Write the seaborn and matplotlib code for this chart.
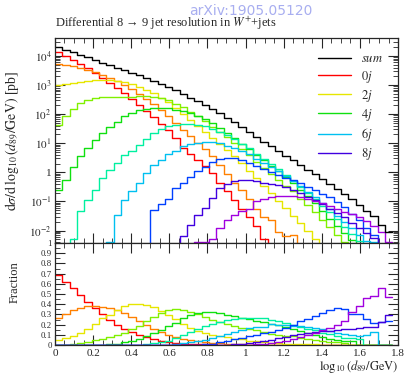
import numpy as np
import pandas as pd
import matplotlib
matplotlib.use("Agg")
import matplotlib.pyplot as plt
import seaborn as sns
from matplotlib.lines import Line2D
from matplotlib.ticker import FuncFormatter, MultipleLocator, LogLocator, NullFormatter

NA = np.nan

# ─── binning in log10(d89/GeV) ───────────────────────────────────────────────
bin_lo, bin_hi, n_bins = 0.0, 1.77, 46

mult_labels = ["0j", "1j", "2j", "3j", "4j", "5j", "6j", "7j", "8j", "9j"]
mult_colors = ["#ff0000", "#ff8000", "#e6e600", "#80f000", "#10e010",
               "#00f0a0", "#00c0f0", "#0040ff", "#4000e0", "#a000e0"]
legend_mults = ["0j", "2j", "4j", "6j", "8j"]

# log10 of dsigma/dlog10(d89) [pb] per bin
log_xs_0j = [4.15, 4.01, 3.87, 3.73, 3.58, 3.42, 3.25, 3.08, 2.90, 2.71,
             2.51, 2.33, 2.12, 1.89, 1.67, 1.46, 1.18, 0.85, 0.62, 0.42,
             0.22, -0.02, -0.35, -0.65, -0.95, -1.25, -1.55, -1.85, -2.30] + [NA] * 17
log_xs_1j = [3.73, 3.70, 3.66, 3.60, 3.53, 3.44, 3.34, 3.25, 3.14, 3.00,
             2.85, 2.70, 2.53, 2.34, 2.15, 1.94, 1.70, 1.46, 1.25, 1.01,
             0.79, 0.55, 0.25, -0.05, -0.35, -0.60, -0.90, -1.25, -1.55, -1.65,
             -2.05, -2.20, -2.15] + [NA] * 13
log_xs_2j = [3.00, 3.04, 3.07, 3.12, 3.15, 3.18, 3.19, 3.16, 3.13, 3.09,
             3.02, 2.94, 2.84, 2.71, 2.57, 2.40, 2.22, 2.00, 1.79, 1.59,
             1.37, 1.17, 0.96, 0.76, 0.55, 0.31, 0.05, -0.21, -0.47, -0.72,
             -0.98, -1.24, -1.50, -1.74, -2.00, -2.28] + [NA] * 10
log_xs_3j = [1.61, 1.92, 2.17, 2.38, 2.49, 2.56, 2.58, 2.59, 2.59, 2.58,
             2.60, 2.61, 2.61, 2.58, 2.54, 2.47, 2.36, 2.23, 2.08, 1.92,
             1.75, 1.57, 1.39, 1.20, 1.02, 0.80, 0.59, 0.37, 0.15, -0.06,
             -0.26, -0.47, -0.65, -0.90, -1.12, -1.36, -1.63, -1.88, -2.14, -2.40] + [NA] * 6
log_xs_4j = [-0.62, -0.25, 0.20, 0.55, 0.83, 1.12, 1.34, 1.57, 1.73, 1.93,
             2.03, 2.14, 2.19, 2.22, 2.20, 2.20, 2.15, 2.12, 2.03, 1.93,
             1.82, 1.68, 1.52, 1.35, 1.19, 0.99, 0.80, 0.59, 0.41, 0.22,
             0.03, -0.17, -0.38, -0.59, -0.82, -1.06, -1.33, -1.59, -1.83, -2.09,
             -2.32] + [NA] * 5
log_xs_5j = [NA, NA, -2.30, -1.34, -0.94, -0.60, -0.20, 0.09, 0.32, 0.60,
             0.75, 0.95, 1.15, 1.35, 1.48, 1.58, 1.63, 1.67, 1.67, 1.63,
             1.58, 1.49, 1.39, 1.27, 1.15, 0.99, 0.82, 0.63, 0.47, 0.29,
             0.11, -0.09, -0.29, -0.50, -0.70, -0.90, -1.15, -1.38, -1.62, -1.87,
             -2.11, -2.36] + [NA] * 4
log_xs_6j = [NA] * 7 + [-2.40, -1.46, -0.94,
             -0.65, -0.37, -0.02, 0.26, 0.43, 0.63, 0.75, 0.90, 0.98, 1.02,
             1.04, 1.03, 1.00, 0.92, 0.85, 0.75, 0.62, 0.46, 0.31, 0.20,
             0.04, -0.12, -0.30, -0.47, -0.66, -0.84, -1.04, -1.25, -1.49, -1.70,
             -1.92, -2.15, -2.35, -2.40] + [NA] * 2
log_xs_7j = [NA] * 13 + [-1.30, -1.10, -0.90, -0.55, -0.35, -0.15, 0.05,
             0.20, 0.35, 0.47, 0.48, 0.48, 0.42, 0.33, 0.22, 0.11, 0.01,
             -0.08, -0.19, -0.28, -0.38, -0.49, -0.60, -0.73, -0.86, -1.01, -1.19,
             -1.44, -1.64, -1.92, -2.17, -2.45, -2.69]
log_xs_8j = [NA] * 17 + [-2.20, -1.80, -1.46,
             -1.23, -0.88, -0.55, -0.40, -0.30, -0.27, -0.28, -0.31, -0.36, -0.40,
             -0.45, -0.52, -0.60, -0.72, -0.84, -0.96, -1.10, -1.25, -1.39, -1.55,
             -1.73, -1.90, -2.08, -2.27, -2.45, -2.60]
log_xs_9j = [NA] * 19 + [-2.40,
             -2.40, -2.30, -1.90, -1.64, -1.48, -1.32, -1.25, -1.00, -0.90, -0.85,
             -0.82, -0.80, -0.82, -0.86, -0.90, -0.98, -1.07, -1.17, -1.27, -1.36,
             -1.42, -1.54, -1.67, -1.83, -2.05, -2.39]

all_logs = [log_xs_0j, log_xs_1j, log_xs_2j, log_xs_3j, log_xs_4j,
            log_xs_5j, log_xs_6j, log_xs_7j, log_xs_8j, log_xs_9j]

# ─── long-form table: cross sections, sum and fractions ─────────────────────
edges = np.linspace(bin_lo, bin_hi, n_bins + 1)
centres = 0.5 * (edges[:-1] + edges[1:])
bin_list = edges.tolist()

frames = []
for lab, vals in zip(mult_labels, all_logs):
    xs = np.nan_to_num(10.0 ** np.asarray(vals, dtype=float), nan=0.0)
    frames.append(pd.DataFrame({"bin": np.arange(n_bins), "x": centres, "xs": xs, "mult": lab}))
df = pd.concat(frames, ignore_index=True)
df["total"] = df.groupby("bin")["xs"].transform("sum")
df["frac"] = df["xs"] / df["total"]
df["xs_plot"] = df["xs"].where(df["xs"] > 0, 1e-9)   # empty bins drop below the axis

sum_df = df.groupby("bin", as_index=False).agg(x=("x", "first"), xs=("total", "first"))

# ─── style ──────────────────────────────────────────────────────────────────
sns.set_style("ticks")
plt.rcParams["font.family"] = ["Liberation Serif", "DejaVu Serif"]
plt.rcParams["mathtext.fontset"] = "stix"

fig = plt.figure(figsize=(4.07, 3.78), dpi=100)
ax_top = fig.add_axes([0.135, 0.357, 0.843, 0.542])
ax_bot = fig.add_axes([0.135, 0.087, 0.843, 0.270], sharex=ax_top)

ax_top.set_yscale("log")
for lab, col in zip(mult_labels, mult_colors):
    sub = df[df["mult"] == lab]
    sns.histplot(data=sub, x="x", weights="xs_plot", bins=bin_list, element="step",
                 fill=False, color=col, linewidth=1.0, ax=ax_top)
    sns.histplot(data=sub, x="x", weights="frac", bins=bin_list, element="step",
                 fill=False, color=col, linewidth=1.0, ax=ax_bot)
sns.histplot(data=sum_df, x="x", weights="xs", bins=bin_list, element="step",
             fill=False, color="black", linewidth=1.0, ax=ax_top)

# ─── axes ───────────────────────────────────────────────────────────────────
ax_top.set_xlim(0, 1.8)
ax_top.set_ylim(10 ** -2.43, 10 ** 4.61)
ax_bot.set_ylim(0, 1)

def log_fmt(v, pos):
    e = int(round(np.log10(v)))
    return "1" if e == 0 else rf"$10^{{{e}}}$"

ax_top.yaxis.set_major_locator(LogLocator(base=10, numticks=20))
ax_top.yaxis.set_minor_locator(LogLocator(base=10, subs=np.arange(2, 10), numticks=20))
ax_top.yaxis.set_major_formatter(FuncFormatter(log_fmt))
ax_top.yaxis.set_minor_formatter(NullFormatter())

ax_bot.xaxis.set_major_locator(MultipleLocator(0.2))
ax_bot.xaxis.set_minor_locator(MultipleLocator(0.05))
ax_bot.xaxis.set_major_formatter(FuncFormatter(lambda v, p: f"{v:g}"))
ax_bot.yaxis.set_major_locator(MultipleLocator(0.1))
ax_bot.yaxis.set_minor_locator(MultipleLocator(0.05))
ax_bot.yaxis.set_major_formatter(FuncFormatter(lambda v, p: f"{v:g}"))

for ax in (ax_top, ax_bot):
    ax.tick_params(which="both", direction="in", top=True, right=True, labelsize=8, pad=2.5)
    ax.tick_params(which="major", length=7, width=0.8)
    ax.tick_params(which="minor", length=3.5, width=0.6)
    for sp in ax.spines.values():
        sp.set_linewidth(0.9)
ax_top.tick_params(labelbottom=False)
ax_bot.tick_params(axis="y", labelsize=6.3, pad=2)

ax_top.set_xlabel("")
ax_top.set_ylabel(r"$\mathrm{d}\sigma/\mathrm{d}\,\log_{10}(d_{89}/\mathrm{GeV})$ [pb]", fontsize=10)
ax_top.yaxis.set_label_coords(-0.10, 0.5)
ax_bot.set_ylabel("Fraction", fontsize=9)
ax_bot.yaxis.set_label_coords(-0.10, 0.62)
ax_bot.set_xlabel(r"$\log_{10}(d_{89}/\mathrm{GeV})$", fontsize=9, loc="right", labelpad=0)

# legend
handles = [Line2D([], [], color="black", lw=1.0)]
names = [r"$sum$"]
for lab in legend_mults:
    handles.append(Line2D([], [], color=mult_colors[mult_labels.index(lab)], lw=1.0))
    names.append(rf"${lab}$")
ax_top.legend(handles, names, loc="upper right", bbox_to_anchor=(0.97, 0.95),
              frameon=False, fontsize=9, handlelength=2.6, labelspacing=0.25,
              borderaxespad=0.0)

fig.text(0.135, 1 - 27 / 378, "Differential 8 \u2192 9 jet resolution in $W^{+}$+jets",
         fontsize=9, ha="left", va="baseline")
fig.text(0.617, 0.972, "arXiv:1905.05120", color="#a8aef0", family="DejaVu Sans",
         fontsize=10, ha="center", va="center")

fig.savefig("out.png", dpi=100)
